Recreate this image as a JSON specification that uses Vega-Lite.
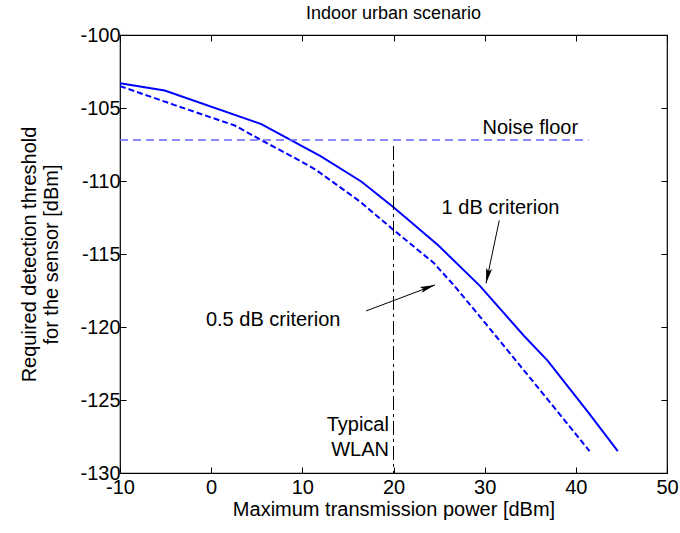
{
  "$schema": "https://vega.github.io/schema/vega-lite/v6.json",
  "width": 547,
  "height": 438,
  "autosize": {"type": "none"},
  "padding": {"left": 120, "top": 35, "right": 13, "bottom": 60},
  "background": "white",
  "config": {
    "font": "Liberation Sans",
    "view": {"stroke": "black", "strokeWidth": 1.2},
    "axis": {
      "grid": false,
      "domain": false,
      "tickColor": "black",
      "tickSize": -6,
      "labelColor": "black",
      "titleColor": "black",
      "labelFontSize": 20,
      "titleFontSize": 20,
      "titleFontWeight": "normal",
      "labelFont": "Liberation Sans",
      "titleFont": "Liberation Sans",
      "labelFlush": false,
      "labelOverlap": false
    }
  },
  "title": {"text": "Indoor urban scenario", "fontSize": 18, "fontWeight": "normal", "font": "Liberation Sans", "offset": 2, "color": "black"},
  "datasets": {
    "solid": [
      {"x": -10, "y": -103.3}, {"x": -5.1, "y": -103.8}, {"x": 5.5, "y": -106.1},
      {"x": 12.0, "y": -108.3}, {"x": 16.5, "y": -110.05}, {"x": 20.0, "y": -111.8},
      {"x": 24.9, "y": -114.4}, {"x": 29.5, "y": -117.2}, {"x": 34.3, "y": -120.6},
      {"x": 36.9, "y": -122.3}, {"x": 41.3, "y": -125.8}, {"x": 44.6, "y": -128.5}
    ],
    "dashed": [
      {"x": -10, "y": -103.5}, {"x": -4.0, "y": -104.8}, {"x": 2.6, "y": -106.2},
      {"x": 5.2, "y": -107.1}, {"x": 9.7, "y": -108.6}, {"x": 11.4, "y": -109.2},
      {"x": 16.3, "y": -111.4}, {"x": 20.0, "y": -113.35}, {"x": 24.4, "y": -115.6},
      {"x": 26.7, "y": -117.2}, {"x": 29.5, "y": -119.3}, {"x": 35.0, "y": -123.5},
      {"x": 38.0, "y": -125.8}, {"x": 41.5, "y": -128.5}
    ],
    "noise": [{"x": -10, "x2": 41.4, "y": -107.2}],
    "wlan": [{"x": 20, "y": -107.6, "y2": -130}],
    "arrows": [
      {"x": 31.6, "y": -112.7, "x2": 30.15, "y2": -117.0, "angle": 192},
      {"x": 17.0, "y": -118.9, "x2": 24.55, "y2": -117.12, "angle": 71}
    ],
    "labels": [
      {"x": 31.74, "y": -111.85, "text": "1 dB criterion"},
      {"x": 6.8, "y": -119.5, "text": "0.5 dB criterion"},
      {"x": 35.0, "y": -106.4, "text": "Noise floor"}
    ],
    "rlabels": [
      {"x": 19.5, "y": -126.7, "text": "Typical"},
      {"x": 19.5, "y": -128.4, "text": "WLAN"}
    ]
  },
  "layer": [
    {
      "data": {"name": "solid"},
      "mark": {"type": "line", "color": "#0000ff", "strokeWidth": 2},
      "encoding": {
        "x": {"field": "x", "type": "quantitative", "scale": {"domain": [-10, 50], "nice": false},
              "axis": {"values": [-10, 0, 10, 20, 30, 40, 50], "labelExpr": "'' + datum.value", "title": "Maximum transmission power [dBm]", "labelPadding": 10, "titlePadding": 2, "orient": "bottom"}},
        "y": {"field": "y", "type": "quantitative", "scale": {"domain": [-130, -100], "nice": false, "zero": false},
              "axis": {"values": [-130, -125, -120, -115, -110, -105, -100], "labelExpr": "'' + datum.value", "title": ["Required detection threshold", "for the sensor [dBm]"], "labelPadding": 6, "titlePadding": 18, "orient": "left"}}
      }
    },
    {
      "data": {"name": "dashed"},
      "mark": {"type": "line", "color": "#0000ff", "strokeWidth": 2, "strokeDash": [6, 3]},
      "encoding": {
        "x": {"field": "x", "type": "quantitative", "axis": null},
        "y": {"field": "y", "type": "quantitative", "axis": null}
      }
    },
    {
      "data": {"name": "noise"},
      "mark": {"type": "rule", "color": "#6666ff", "strokeWidth": 1.5, "strokeDash": [8, 5]},
      "encoding": {
        "x": {"field": "x", "type": "quantitative", "axis": {"orient": "top", "labels": false, "title": null, "values": [-10, 0, 10, 20, 30, 40, 50]}},
        "x2": {"field": "x2"},
        "y": {"field": "y", "type": "quantitative", "axis": {"orient": "right", "labels": false, "title": null, "values": [-130, -125, -120, -115, -110, -105, -100]}}
      }
    },
    {
      "data": {"name": "wlan"},
      "mark": {"type": "rule", "color": "black", "strokeWidth": 1, "strokeDash": [14, 4, 3, 4]},
      "encoding": {
        "x": {"field": "x", "type": "quantitative", "axis": null},
        "y": {"field": "y", "type": "quantitative", "axis": null},
        "y2": {"field": "y2"}
      }
    },
    {
      "data": {"name": "arrows"},
      "mark": {"type": "rule", "color": "black", "strokeWidth": 1},
      "encoding": {
        "x": {"field": "x", "type": "quantitative", "axis": null},
        "y": {"field": "y", "type": "quantitative", "axis": null},
        "x2": {"field": "x2"},
        "y2": {"field": "y2"}
      }
    },
    {
      "data": {"name": "arrows"},
      "mark": {"type": "point", "shape": "M0,0L-0.32,1.6L0,1.3L0.32,1.6Z", "filled": true, "color": "black", "opacity": 1, "size": 350},
      "encoding": {
        "x": {"field": "x2", "type": "quantitative", "axis": null},
        "y": {"field": "y2", "type": "quantitative", "axis": null},
        "angle": {"field": "angle", "type": "quantitative", "scale": null}
      }
    },
    {
      "data": {"name": "labels"},
      "mark": {"type": "text", "fontSize": 20, "font": "Liberation Sans", "color": "black", "align": "center", "baseline": "middle"},
      "encoding": {
        "x": {"field": "x", "type": "quantitative", "axis": null},
        "y": {"field": "y", "type": "quantitative", "axis": null},
        "text": {"field": "text"}
      }
    },
    {
      "data": {"name": "rlabels"},
      "mark": {"type": "text", "fontSize": 20, "font": "Liberation Sans", "color": "black", "align": "right", "baseline": "middle"},
      "encoding": {
        "x": {"field": "x", "type": "quantitative", "axis": null},
        "y": {"field": "y", "type": "quantitative", "axis": null},
        "text": {"field": "text"}
      }
    }
  ],
  "resolve": {"axis": {"x": "independent", "y": "independent"}}
}
